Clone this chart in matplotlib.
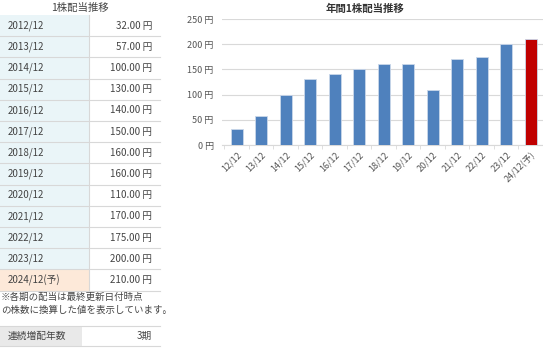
import matplotlib
matplotlib.use("Agg")
import matplotlib.pyplot as plt
from matplotlib.patches import Rectangle
import numpy as np

plt.rcParams["font.family"] = ["Noto Sans CJK JP", "DejaVu Sans"]

# データ
years = ["2012/12", "2013/12", "2014/12", "2015/12", "2016/12", "2017/12", "2018/12",
         "2019/12", "2020/12", "2021/12", "2022/12", "2023/12", "2024/12(予)"]
dividends = [32, 57, 100, 130, 140, 150, 160, 160, 110, 170, 175, 200, 210]
xlabels = ["12/12", "13/12", "14/12", "15/12", "16/12", "17/12", "18/12",
           "19/12", "20/12", "21/12", "22/12", "23/12", "24/12(予)"]
yticks = [0, 50, 100, 150, 200, 250]
streak_label = "連続増配年数"
streak_value = "3期"
note = ["※各期の配当は最終更新日付時点", "の株数に換算した値を表示しています。"]

W, H = 543, 350
fig = plt.figure(figsize=(W / 100, H / 100), dpi=100)
fig.patch.set_facecolor("white")

# 左：表（ピクセル座標 → figure座標）
ov = fig.add_axes([0, 0, 1, 1])
ov.set_xlim(0, W)
ov.set_ylim(H, 0)
ov.axis("off")

txt = "#444444"
ov.text(80, 8, "1株配当推移", ha="center", va="center", fontsize=7.5, color=txt)

top, rh = 15, 21.2
xdiv, xr = 89, 160
for i, (y, v) in enumerate(zip(years, dividends)):
    y0 = top + i * rh
    bg = "#fde9d9" if "予" in y else "#eaf5f8"
    ov.add_patch(Rectangle((0, y0), xdiv, rh, facecolor=bg, edgecolor="none"))
    ov.plot([0, xr], [y0 + rh, y0 + rh], color="#d8d8d8", lw=0.8)
    ov.text(8, y0 + rh / 2, y, ha="left", va="center", fontsize=7, color=txt)
    ov.text(xr - 8, y0 + rh / 2, "%.2f 円" % v, ha="right", va="center", fontsize=7, color=txt)
ov.plot([xdiv, xdiv], [top, top + rh * len(years)], color="#d8d8d8", lw=0.8)

ov.text(1, 297, note[0], ha="left", va="center", fontsize=6.8, color=txt)
ov.text(1, 310, note[1], ha="left", va="center", fontsize=6.8, color=txt)

ov.add_patch(Rectangle((0, 326), 82, 20, facecolor="#e9e9e9", edgecolor="none"))
ov.plot([0, xr], [326, 326], color="#d8d8d8", lw=0.8)
ov.plot([0, xr], [346, 346], color="#d8d8d8", lw=0.8)
ov.text(8, 336, streak_label, ha="left", va="center", fontsize=7, color=txt)
ov.text(xr - 8, 336, streak_value, ha="right", va="center", fontsize=7, color=txt)

# 右：棒グラフ
ax = fig.add_axes([222 / W, 1 - 145 / H, 321 / W, 126 / H])
x = np.arange(len(dividends))
colors = ["#c00000" if "予" in l else "#4f81bd" for l in xlabels]
ax.bar(x, dividends, width=0.5, color=colors, edgecolor="#c9d7ea", linewidth=0.6, zorder=3)
ax.set_xlim(-0.6, len(dividends) - 0.5)
ax.set_ylim(0, 250)
ax.set_yticks(yticks)
ax.set_yticklabels(["%d 円" % t for t in yticks], fontsize=6.5, color="#555555")
ax.set_xticks(x)
ax.set_xticklabels(xlabels, rotation=45, ha="right", rotation_mode="anchor",
                   fontsize=6.5, color="#555555")
ax.yaxis.grid(True, color="#d9d9d9", lw=0.8, zorder=0)
for s in ["top", "right", "left"]:
    ax.spines[s].set_visible(False)
ax.spines["bottom"].set_color("#d9d9d9")
ax.tick_params(axis="y", length=0, pad=6)
ax.tick_params(axis="x", length=0, pad=4)
ax.set_xticks(np.arange(-0.5, len(dividends), 1), minor=True)
ax.tick_params(axis="x", which="minor", length=3, color="#d9d9d9")
fig.text(365 / W, 1 - 9 / H, "年間1株配当推移", ha="center", va="center",
         fontsize=7.5, fontweight="bold", color="#333333")

fig.savefig("out.png", dpi=100)
